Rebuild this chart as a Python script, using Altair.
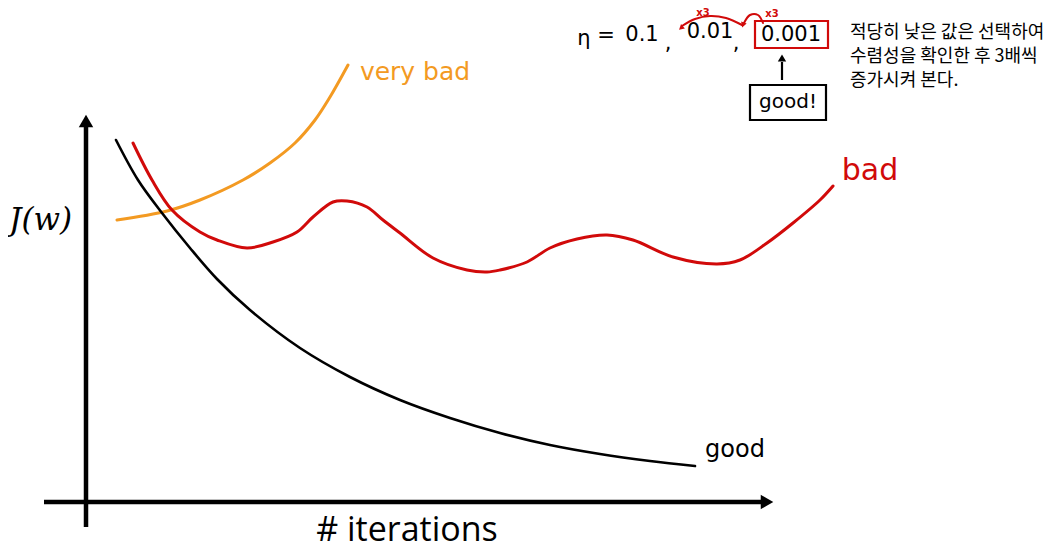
import altair as alt
import pandas as pd

# ---- curve data (x = iterations, y = J(w)) ----
good_x = [30, 52, 76, 104, 131, 164, 214, 264, 314, 364, 414, 464, 514, 564, 609]
good_y = [362, 322, 289, 254, 223, 192, 154, 125, 102, 84, 69, 57, 48, 41, 36]

bad_x = [47, 66, 86, 114, 131, 161, 187, 211, 227, 247, 261, 281, 297, 314, 347, 381,
         401, 414, 441, 464, 491, 521, 547, 587, 631, 654, 681, 707, 734, 747]
bad_y = [359, 322, 292, 270, 262, 254, 260, 270, 285, 300, 301, 295, 282, 269, 244, 232,
         230, 232, 240, 254, 263, 267, 262, 245, 238, 242, 259, 279, 302, 316]

vbad_x = [31, 81, 114, 157, 184, 209, 229, 244, 262]
vbad_y = [282, 291, 302, 322, 339, 359, 382, 405, 437]

RED = "#d10a0a"
ORANGE = "#f39a22"
X_DOM = [-78, 961]
Y_DOM = [-48, 494]

xs = alt.Scale(domain=X_DOM, nice=False, zero=False)
ys = alt.Scale(domain=Y_DOM, nice=False, zero=False)


def X(f="x"):
    return alt.X(f"{f}:Q", scale=xs, axis=None)


def Y(f="y"):
    return alt.Y(f"{f}:Q", scale=ys, axis=None)


def curve(xv, yv, color, width):
    df = pd.DataFrame({"x": xv, "y": yv, "o": range(len(xv))})
    return alt.Chart(df).mark_line(color=color, strokeWidth=width, interpolate="catmull-rom",
                                   strokeCap="round").encode(x=X(), y=Y(), order="o:Q")


good = curve(good_x, good_y, "black", 2.6)
bad = curve(bad_x, bad_y, RED, 3)
vbad = curve(vbad_x, vbad_y, ORANGE, 3)

# ---- axes (arrows) ----
axes_df = pd.DataFrame({"x": [0, -42], "x2": [0, 676], "y": [-25, 0], "y2": [375, 0]})
axes = alt.Chart(axes_df).mark_rule(color="black", strokeWidth=4.5).encode(
    x=X(), x2="x2:Q", y=Y(), y2="y2:Q")

heads_df = pd.DataFrame({"x": [0, 681], "y": [381, 0], "shape": ["triangle-up", "triangle-right"]})
heads = alt.Chart(heads_df).mark_point(filled=True, color="black", opacity=1, size=210).encode(
    x=X(), y=Y(), shape=alt.Shape("shape:N", scale=None))

# ---- labels ----
def label(df, color, size, font="DejaVu Sans", style=None, align="center", weight=None):
    kw = dict(color=color, fontSize=size, font=font, align=align, baseline="middle")
    if style:
        kw["fontStyle"] = style
    if weight:
        kw["fontWeight"] = weight
    return alt.Chart(df).mark_text(**kw).encode(x=X(), y=Y(), text="t:N")


lab_vbad = label(pd.DataFrame({"x": [329], "y": [430], "t": ["very bad"]}), ORANGE, 25)
lab_bad = label(pd.DataFrame({"x": [784], "y": [331], "t": ["bad"]}), RED, 30)
lab_good = label(pd.DataFrame({"x": [649], "y": [52], "t": ["good"]}), "black", 24)
lab_j = label(pd.DataFrame({"x": [-77], "y": [281], "t": ["J(w)"]}), "black", 31,
              font="DejaVu Serif", style="italic", align="left")
lab_iter = label(pd.DataFrame({"x": [321], "y": [-29], "t": ["# iterations"]}), "black", 34,
                 font="Open Sans")

# ---- top annotation ----
eta_df = pd.DataFrame({"x": [498, 520, 556, 582, 624, 650, 705],
                       "y": [463, 466, 467, 458, 470, 458, 467],
                       "t": ["η", "=", "0.1", ",", "0.01", ",", "0.001"]})
eta = label(eta_df, "black", 21)

box_df = pd.DataFrame({"x": [669, 664], "x2": [742, 740], "y": [454, 382], "y2": [481, 417],
                       "c": [RED, "black"]})
boxes = alt.Chart(box_df).mark_rect(fill="white", fillOpacity=0, strokeWidth=2.2).encode(
    x=X(), x2="x2:Q", y=Y(), y2="y2:Q", stroke=alt.Stroke("c:N", scale=None))

good_bang = label(pd.DataFrame({"x": [702], "y": [400], "t": ["good!"]}), "black", 20)

up_df = pd.DataFrame({"x": [696], "x2": [696], "y": [422], "y2": [440]})
up_arrow = alt.Chart(up_df).mark_rule(color="black", strokeWidth=2.2).encode(
    x=X(), x2="x2:Q", y=Y(), y2="y2:Q")
up_head = alt.Chart(pd.DataFrame({"x": [696], "y": [444]})).mark_point(
    shape="triangle-up", filled=True, color="black", opacity=1, size=70).encode(x=X(), y=Y())

arc1 = curve([656, 640, 624, 609, 596], [477, 484, 486, 483, 476], RED, 2)
arc2 = curve([677, 672, 664, 658], [479, 487, 487, 479], RED, 2)
arc_heads = alt.Chart(pd.DataFrame({"x": [595, 657], "y": [474, 477], "a": [230, 200]})).mark_point(
    shape="triangle-up", filled=True, color=RED, opacity=1, size=35).encode(
    x=X(), y=Y(), angle=alt.Angle("a:Q", scale=None))
x3 = label(pd.DataFrame({"x": [617, 686], "y": [489, 488], "t": ["x3", "x3"]}), RED, 10,
           weight="bold")

kr_df = pd.DataFrame({"x": [764, 764, 764], "y": [469, 445, 421],
                      "t": ["적당히 낮은 값은 선택하여", "수렴성을 확인한 후 3배씩", "증가시켜 본다."]})
kr = label(kr_df, "black", 18, font="Noto Sans CJK KR", align="left")

chart = alt.layer(
    axes, heads, vbad, good, bad, lab_vbad, lab_bad, lab_good, lab_j, lab_iter,
    eta, boxes, good_bang, up_arrow, up_head, arc1, arc2, arc_heads, x3, kr
).properties(
    width=1039, height=542, padding=0,
    autosize=alt.AutoSizeParams(type="none"),
).configure_view(stroke=None)

chart.save("out.html", embed_options={"renderer": "svg", "actions": False})
